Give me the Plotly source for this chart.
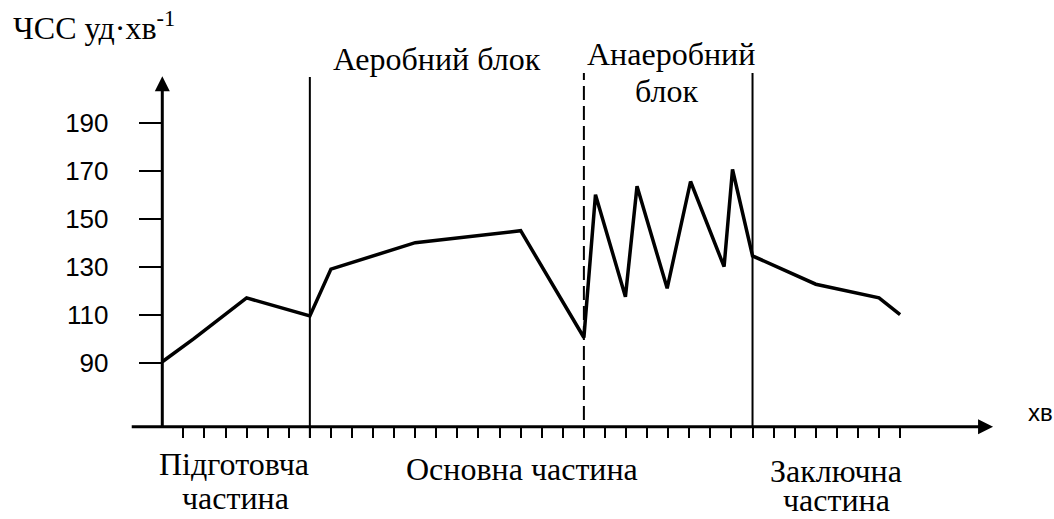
import plotly.graph_objects as go

# ---------------- data ----------------
minutes = [0, 1.5, 4, 7, 8, 12, 17, 20, 20.55, 21.97, 22.52, 23.95, 25.06, 26.65, 27.05, 28, 31, 34, 35]
hr = [90.4, 100, 117, 109.5, 129, 140, 145, 100.5, 160, 117.5, 163.5, 121, 165.5, 130, 170.5, 134.5, 122.7, 117, 110]

y_ticks = [90, 110, 130, 150, 170, 190]
y_tick_labels = ["90", "110", "130", "150", "170", "190"]
x_ticks = list(range(1, 36))

# axis geometry (data units)
X_MIN, X_MAX = -7.699, 42.301
Y_MIN, Y_MAX = 24.875, 241.125
AXIS_Y = 63.3          # value where x-axis sits
X_AXIS_START = -1.45
X_ARROW_TIP = 39.41
Y_ARROW_TIP = 209.4
LABEL_EDGE_X = -2.55   # x (data units) where the y tick labels end

W, H = 1054, 519
SERIF = "Liberation Serif, Times New Roman, serif"
SANS = "Liberation Sans, Arial, sans-serif"

fig = go.Figure()

# data line
fig.add_trace(go.Scatter(x=minutes, y=hr, mode="lines",
                         line=dict(color="black", width=3.5),
                         hoverinfo="skip", showlegend=False))

# axis lines
fig.add_trace(go.Scatter(x=[X_AXIS_START, X_ARROW_TIP - 0.5], y=[AXIS_Y, AXIS_Y], mode="lines",
                         line=dict(color="black", width=3), hoverinfo="skip", showlegend=False))
fig.add_trace(go.Scatter(x=[0, 0], y=[AXIS_Y, Y_ARROW_TIP - 4], mode="lines",
                         line=dict(color="black", width=3), hoverinfo="skip", showlegend=False))
# arrow heads
fig.add_trace(go.Scatter(x=[X_ARROW_TIP], y=[AXIS_Y], mode="markers",
                         marker=dict(symbol="arrow-right", size=15, color="black", line=dict(width=0)),
                         hoverinfo="skip", showlegend=False))
fig.add_trace(go.Scatter(x=[0], y=[Y_ARROW_TIP], mode="markers",
                         marker=dict(symbol="arrow-up", size=15, color="black", line=dict(width=0)),
                         hoverinfo="skip", showlegend=False))

# phase boundaries
fig.add_trace(go.Scatter(x=[7, 7], y=[58.6, 209.0], mode="lines",
                         line=dict(color="black", width=2), hoverinfo="skip", showlegend=False))
fig.add_trace(go.Scatter(x=[28, 28], y=[AXIS_Y, 210.7], mode="lines",
                         line=dict(color="black", width=2), hoverinfo="skip", showlegend=False))
fig.add_trace(go.Scatter(x=[20, 20], y=[66.1, 210.7], mode="lines",
                         line=dict(color="black", width=2, dash="14px,6px"),
                         hoverinfo="skip", showlegend=False))

# invisible trace bound to the label-only axis so it is drawn
fig.add_trace(go.Scatter(x=[None], y=[None], yaxis="y2", mode="lines",
                         hoverinfo="skip", showlegend=False))

# text annotations
def txt(s, x, y, size=32, font=SERIF, xanchor="center"):
    fig.add_annotation(x=x, y=y, xref="x", yref="y", text=s, showarrow=False,
                       xanchor=xanchor, yanchor="middle",
                       font=dict(family=font, size=size, color="black"))

txt("ЧСС уд·хв<sup>-1</sup>", -7.16, 230.3, xanchor="left")
txt("Аеробний блок", 13.03, 216.5)
txt("Анаеробний", 24.13, 218.6)
txt("блок", 23.94, 203.2)
txt("Підготовча", 3.4, 48.0)
txt("частина", 3.45, 33.6)
txt("Основна частина", 17.06, 45.7)
txt("Заключна", 31.96, 44.9)
txt("частина", 32.0, 32.6)
txt("хв", 41.64, 69.2, size=24, font=SANS)

fig.update_layout(
    width=W, height=H,
    margin=dict(l=0, r=0, t=0, b=0, pad=0),
    paper_bgcolor="white", plot_bgcolor="white",
    xaxis=dict(range=[X_MIN, X_MAX], showgrid=False, zeroline=False, showline=False,
               anchor="free", position=(AXIS_Y - Y_MIN) / (Y_MAX - Y_MIN),
               tickmode="array", tickvals=x_ticks, ticks="outside", ticklen=10,
               tickwidth=2, tickcolor="black", showticklabels=False, fixedrange=True),
    yaxis=dict(range=[Y_MIN, Y_MAX], showgrid=False, zeroline=False, showline=False,
               anchor="free", position=(0 - X_MIN) / (X_MAX - X_MIN),
               tickmode="array", tickvals=y_ticks, ticks="outside", ticklen=23,
               tickwidth=2, tickcolor="black", showticklabels=False, fixedrange=True),
    yaxis2=dict(range=[Y_MIN, Y_MAX], overlaying="y", side="left", showgrid=False,
                zeroline=False, showline=False, anchor="free",
                position=(LABEL_EDGE_X - X_MIN) / (X_MAX - X_MIN),
                tickmode="array", tickvals=y_ticks, ticktext=y_tick_labels, ticks="",
                tickfont=dict(family=SANS, size=26, color="black"), fixedrange=True),
    showlegend=False,
)

fig.write_html("out.html", post_script="document.body.style.margin='0';",
               config={"displayModeBar": False})
